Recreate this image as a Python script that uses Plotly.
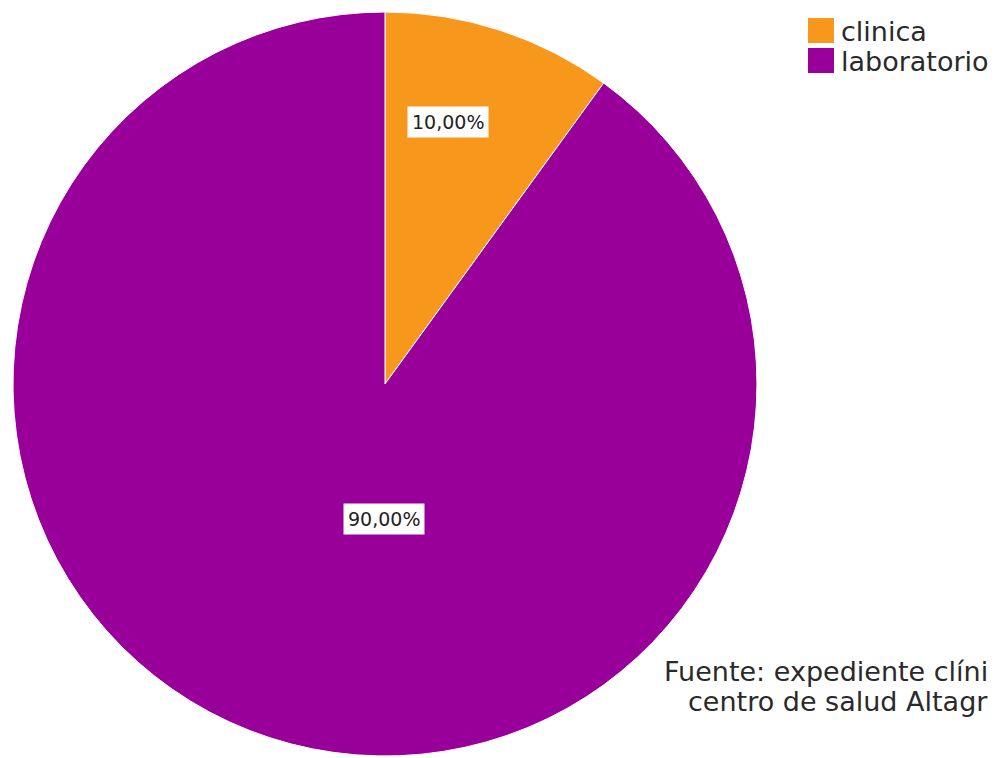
import plotly.graph_objects as go

# Data
categories = ["clinica", "laboratorio"]
percentages = [10.0, 90.0]
slice_colors = ["#F7981D", "#990099"]
source_lines = ["Fuente: expediente clíni", "centro de salud Altagr"]

W, H = 995, 758
FONT = "DejaVu Sans"


def px_x(x):
    return x / W


def px_y(y):
    return 1 - y / H


def fmt_pct(v):
    return f"{v:.2f}".replace(".", ",") + "%"


fig = go.Figure(
    go.Pie(
        labels=categories,
        values=percentages,
        sort=False,
        direction="clockwise",
        rotation=0,
        marker=dict(colors=slice_colors, line=dict(color="white", width=1)),
        textinfo="none",
        hoverinfo="label+percent",
        showlegend=False,
        domain=dict(x=[px_x(13), px_x(757)], y=[px_y(756), px_y(12)]),
    )
)

annotations = []
shapes = []

# Boxed value labels on each slice
label_pos = [(448, 122), (384, 519)]
for v, (lx, ly) in zip(percentages, label_pos):
    annotations.append(dict(
        x=px_x(lx), y=px_y(ly), xref="paper", yref="paper",
        text=fmt_pct(v), showarrow=False,
        font=dict(family=FONT, size=19, color="#222222"),
        bgcolor="white", borderpad=4,
        xanchor="center", yanchor="middle",
    ))

# Legend: colour squares and category names
for i, (name, col) in enumerate(zip(categories, slice_colors)):
    cy = 30.5 + 30 * i
    shapes.append(dict(
        type="rect", xref="paper", yref="paper",
        x0=px_x(808), x1=px_x(834), y0=px_y(cy + 12.5), y1=px_y(cy - 12.5),
        fillcolor=col, line=dict(width=0),
    ))
    annotations.append(dict(
        x=px_x(839), y=px_y(cy + 1), xref="paper", yref="paper",
        text=name, showarrow=False,
        font=dict(family=FONT, size=27, color="#2a2a2a"),
        xanchor="left", yanchor="middle",
    ))

# Source note, right-aligned at the bottom right
for i, line in enumerate(source_lines):
    annotations.append(dict(
        x=px_x(990), y=px_y(671 + 30 * i), xref="paper", yref="paper",
        text=line, showarrow=False,
        font=dict(family=FONT, size=27, color="#2a2a2a"),
        xanchor="right", yanchor="middle", align="right",
    ))

fig.update_layout(
    width=W, height=H,
    margin=dict(l=0, r=0, t=0, b=0),
    paper_bgcolor="white", plot_bgcolor="white",
    annotations=annotations, shapes=shapes,
)

fig.write_html("out.html")
